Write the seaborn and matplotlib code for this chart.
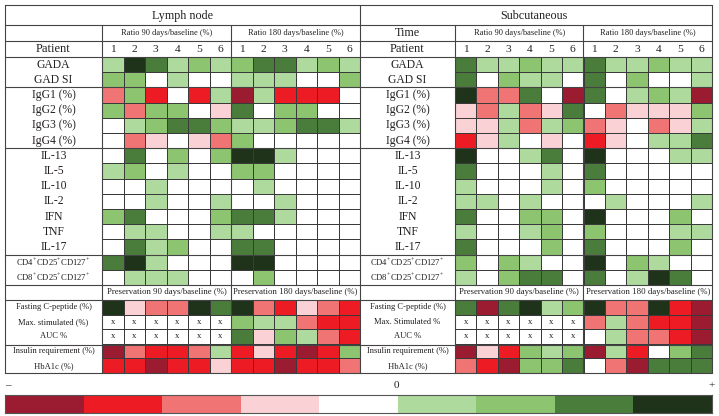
import numpy as np
import matplotlib
matplotlib.use("Agg")
import matplotlib.pyplot as plt
import seaborn as sns
from matplotlib.colors import ListedColormap

# ---------------- data ----------------
X = np.nan  # not measured ("x")
patients = ["1", "2", "3", "4", "5", "6"]
marker_rows = ["GADA", "GAD SI", "IgG1 (%)", "IgG2 (%)", "IgG3 (%)", "IgG4 (%)",
               "IL-13", "IL-5", "IL-10", "IL-2", "IFN", "TNF", "IL-17",
               r"CD4$^{\mathregular{+}}$CD25$^{\mathregular{+}}$CD127$^{\mathregular{+}}$",
               r"CD8$^{\mathregular{+}}$CD25$^{\mathregular{+}}$CD127$^{\mathregular{+}}$"]
ln_pres_rows = ["Fasting C-peptide (%)", "Max. stimulated (%)", "AUC %",
                "Insulin requirement (%)", "HbA1c (%)"]
sc_pres_rows = ["Fasting C-peptide (%)", "Max. Stimulated %", "AUC %",
                "Insulin requirement (%)", "HbA1c (%)"]

ln_marker_90 = [[1, 4, 3, 1, 2, 1], [2, 2, 0, 1, 0, 0], [-2, 2, -3, 0, -3, 1],
                [2, -2, 2, 2, 0, -1], [0, 1, 2, 3, 3, 2], [0, -2, -1, 0, -1, -2],
                [0, 3, 0, 2, 0, 2], [1, 2, 0, 1, 0, 0], [0, 0, 1, 0, 0, 0],
                [0, 0, 1, 0, 0, 1], [2, 3, 0, 0, 0, 2], [0, 1, 1, 0, 0, 1],
                [0, 3, 1, 2, 0, 0], [3, 4, 1, 0, 0, 0], [0, 1, 1, 1, 0, 0]]
ln_marker_180 = [[2, 3, 3, 1, 2, 1], [1, 1, 1, 0, 0, 2], [-4, 1, -3, -3, -3, 0],
                 [3, 0, 2, 2, 0, 0], [1, 1, 2, 3, 3, 1], [2, 0, 0, 0, 0, 0],
                 [4, 4, 1, 0, 0, 0], [2, 2, 0, 0, 0, 0], [0, 1, 0, 0, 0, 0],
                 [0, 0, 1, 0, 0, 0], [3, 3, 1, 0, 0, 0], [1, 0, 0, 0, 0, 0],
                 [3, 3, 0, 0, 0, 0], [4, 4, 0, 0, 0, 0], [0, 2, 0, 0, 0, 0]]
ln_pres_90 = [[4, -1, -2, -2, 4, 3], [X, X, X, X, X, X], [X, X, X, X, X, X],
              [-4, -2, -3, -3, -2, 1], [-3, -3, -4, -3, -3, -1]]
ln_pres_180 = [[4, -2, -3, -1, -2, -3], [2, 1, 1, -2, -3, -3], [3, -1, 2, 1, -2, -3],
               [-3, -1, -3, -4, -3, 2], [-3, -3, -4, -3, -3, -2]]

sc_marker_90 = [[3, 1, 1, 2, 1, 1], [3, 0, 2, 1, 1, 0], [4, -2, -2, 3, 0, -4],
                [-1, -2, 1, -2, -1, 3], [-1, -1, 1, -2, 1, 2], [-3, -1, 1, 0, -1, 0],
                [4, 0, 0, 1, 3, 0], [3, 0, 0, 0, 1, 0], [1, 0, 0, 0, 1, 0],
                [1, 1, 0, 1, 0, 0], [3, 0, 0, 2, 2, 0], [1, 0, 0, 1, 2, 0],
                [3, 0, 0, 0, 2, 0], [2, 0, 2, 1, 0, 0], [1, 0, 2, 3, 3, 0]]
sc_marker_180 = [[3, 1, 1, 2, 1, 1], [3, 0, 2, 0, 0, 1], [3, 0, 1, 2, 1, -4],
                 [0, -2, -1, -1, -1, 2], [-2, -1, 0, -2, -1, 1], [-3, -1, 0, 1, 1, 3],
                 [4, 0, 0, 0, 1, 1], [3, 0, 0, 0, 0, 0], [2, 0, 0, 0, 0, 0],
                 [0, 1, 0, 0, 0, 1], [4, 0, 0, 0, 2, 0], [2, 0, 0, 0, 1, 1],
                 [3, 0, 0, 0, 2, 0], [4, 0, 2, 1, 0, 0], [3, 0, 1, 4, 3, 0]]
sc_pres_90 = [[3, -4, 3, 4, 1, 2], [X, X, X, X, X, X], [X, X, X, X, X, X],
              [-4, -1, -3, 2, 1, 2], [-2, -3, -4, 2, 2, 3]]
sc_pres_180 = [[4, -2, -2, 4, -3, -4], [-2, 1, -2, -3, -3, -4], [0, 1, -2, -2, -3, -4],
               [-4, 1, -3, 0, 2, 3], [0, -2, -4, 3, 3, 3]]

legend_levels = [-4, -3, -2, -1, 0, 1, 2, 3, 4]
level_colors = ["#9B1B30", "#ED1C24", "#F17474", "#FAD2D5", "#FFFFFF",
                "#AEDA9D", "#8CC470", "#4A7C3B", "#1F331A"]

# ---------------- style ----------------
sns.set_theme(style="white")
plt.rcParams['font.family'] = ['Liberation Serif', 'DejaVu Serif']
plt.rcParams['mathtext.fontset'] = 'custom'
plt.rcParams['mathtext.rm'] = 'Liberation Serif'

W, H = 719, 416
fig = plt.figure(figsize=(W / 100, H / 100), dpi=100)
fig.patch.set_facecolor("white")
cmap = ListedColormap(level_colors)
GRID = "#3a3a3a"
TXT = "#231f20"


def add_ax(left, top, right, bottom, **kw):
    return fig.add_axes([left / W, 1 - bottom / H, (right - left) / W, (bottom - top) / H], **kw)


def draw_block(left, top, right, bottom, v90, v180):
    vals = np.hstack([np.array(v90, float), np.array(v180, float)])
    annot = np.where(np.isnan(vals), "x", "")
    ax = add_ax(left, top, right, bottom)
    sns.heatmap(np.nan_to_num(vals, nan=0.0), ax=ax, cmap=cmap, vmin=-4.5, vmax=4.5,
                cbar=False, linewidths=0.7, linecolor=GRID, annot=annot, fmt="",
                annot_kws=dict(size=6.3, color=TXT), xticklabels=False, yticklabels=False)
    ax.set_xlabel("")
    ax.set_ylabel("")


# panels: (label_left, grid_left, grid_right)
panels = [(5, 102, 360), (360, 455, 712)]
M_TOP, M_BOT = 57, 285
P_TOP, P_BOT = 300, 373

draw_block(102, M_TOP, 360, M_BOT, ln_marker_90, ln_marker_180)
draw_block(102, P_TOP, 360, P_BOT, ln_pres_90, ln_pres_180)
draw_block(455, M_TOP, 712, M_BOT, sc_marker_90, sc_marker_180)
draw_block(455, P_TOP, 712, P_BOT, sc_pres_90, sc_pres_180)

# legend bar
lax = add_ax(5, 395, 712, 413)
sns.heatmap(np.array([legend_levels], float), ax=lax, cmap=cmap, vmin=-4.5, vmax=4.5,
            cbar=False, linewidths=0, xticklabels=False, yticklabels=False)
for s in lax.spines.values():
    s.set_visible(True)
    s.set_color("#555555")
    s.set_linewidth(0.8)

# overlay for lines and text (pixel coordinates)
ov = fig.add_axes([0, 0, 1, 1], facecolor="none")
ov.set_xlim(0, W)
ov.set_ylim(H, 0)
ov.axis("off")

LC = "#444444"
for y in [5, 25, 41, 57, 87, 148, 255, 285, 300, 345, 373]:
    ov.plot([5, 712], [y, y], color=LC, lw=0.8)
for x in [5, 360, 712]:
    ov.plot([x, x], [5, 373], color=LC, lw=0.8)
for x in [102, 231, 455, 583]:
    ov.plot([x, x], [25, 373], color=LC, lw=0.8)

# titles
ov.text(182, 16, "Lymph node", ha="center", va="center", fontsize=8.7, color=TXT)
ov.text(534, 16, "Subcutaneous", ha="center", va="center", fontsize=8.7, color=TXT)
ov.text(407, 33, "Time", ha="center", va="center", fontsize=8.7, color=TXT)

col_w = [(360 - 102) / 12, (712 - 455) / 12]
for (lab_l, g_l, g_r), cw in zip(panels, col_w):
    lab_c = (lab_l + g_l) / 2
    half = g_l + 6 * cw
    ov.text((g_l + half) / 2, 33, "Ratio 90 days/baseline (%)", ha="center", va="center",
            fontsize=6, color=TXT)
    ov.text((half + g_r) / 2, 33, "Ratio 180 days/baseline (%)", ha="center", va="center",
            fontsize=6, color=TXT)
    ov.text((g_l + half) / 2, 292.5, "Preservation 90 days/baseline (%)", ha="center",
            va="center", fontsize=6.3, color=TXT)
    ov.text((half + g_r) / 2, 292.5, "Preservation 180 days/baseline (%)", ha="center",
            va="center", fontsize=6.3, color=TXT)
    ov.text(lab_c, 49, "Patient", ha="center", va="center", fontsize=9, color=TXT)
    for k in range(12):
        ov.text(g_l + (k + 0.5) * cw, 49, patients[k % 6], ha="center", va="center",
                fontsize=8.2, color=TXT)
    rh = (M_BOT - M_TOP) / len(marker_rows)
    for i, r in enumerate(marker_rows):
        fs = 6.2 if r.startswith("CD") else 8.4
        ov.text(lab_c, M_TOP + (i + 0.5) * rh, r, ha="center", va="center",
                fontsize=fs, color=TXT)
    prow = ln_pres_rows if lab_l == 5 else sc_pres_rows
    ph = (P_BOT - P_TOP) / len(prow)
    for i, r in enumerate(prow):
        ov.text(lab_c, P_TOP + (i + 0.5) * ph, r, ha="center", va="center",
                fontsize=6.1, color=TXT)

# legend labels
ov.text(8, 386, "\u2013", ha="center", va="center", fontsize=8, color=TXT)
ov.text(396, 386, "0", ha="center", va="center", fontsize=8, color=TXT)
ov.text(712, 386, "+", ha="center", va="center", fontsize=8, color=TXT)

fig.savefig("out.png", dpi=100, facecolor="white")
